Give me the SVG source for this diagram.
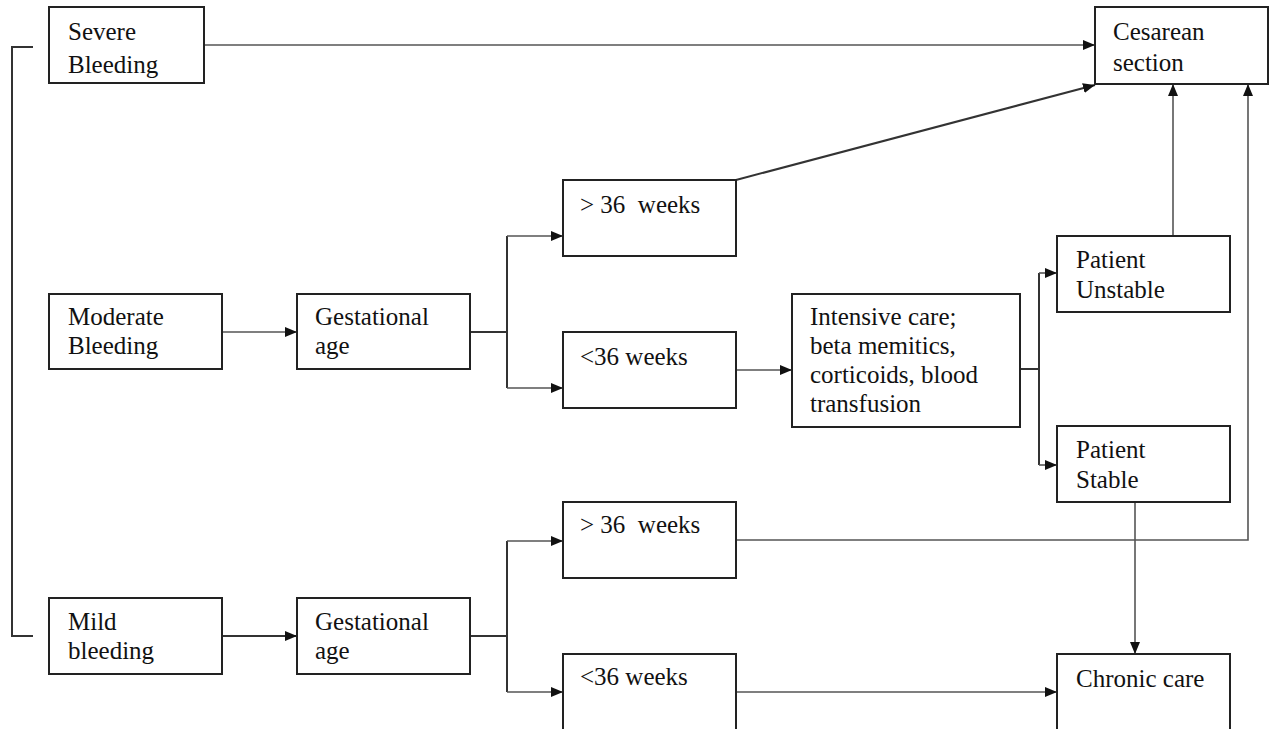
<svg xmlns="http://www.w3.org/2000/svg" width="1274" height="729" viewBox="0 0 1274 729">
<style>
.box{fill:#fff;stroke:#222;stroke-width:2}
.t{font-family:"Liberation Serif","Times New Roman",serif;font-size:25px;fill:#111}
.c{fill:none;stroke:#333;stroke-width:2}
.c2{fill:none;stroke:#555;stroke-width:1.6}
</style>
<defs>
<marker id="ah" viewBox="0 0 12 10" refX="12" refY="5" markerWidth="12" markerHeight="10" markerUnits="userSpaceOnUse" orient="auto">
<path d="M0,0 L12,5 L0,10 z" fill="#111"/>
</marker>
</defs>
<rect width="1274" height="729" fill="#fff"/>
<g id="connectors">
<path class="c" d="M33,47 H12 V636 H33"/>
<path class="c2" d="M204,45 H1095" marker-end="url(#ah)"/>
<path class="c" d="M736,180 L1095,85" marker-end="url(#ah)"/>
<path class="c2" d="M1173,236 V84" marker-end="url(#ah)"/>
<path class="c2" d="M736,540 H1248 V84" marker-end="url(#ah)"/>
<path class="c2" d="M222,332 H297" marker-end="url(#ah)"/>
<path class="c" d="M470,332 H507"/>
<path class="c" d="M507,236 V388"/>
<path class="c2" d="M507,236 H563" marker-end="url(#ah)"/>
<path class="c2" d="M507,388 H563" marker-end="url(#ah)"/>
<path class="c2" d="M736,370 H792" marker-end="url(#ah)"/>
<path class="c" d="M1020,369 H1039"/>
<path class="c" d="M1039,273 V465"/>
<path class="c2" d="M1039,273 H1057" marker-end="url(#ah)"/>
<path class="c2" d="M1039,465 H1057" marker-end="url(#ah)"/>
<path class="c" d="M222,636 H297" marker-end="url(#ah)"/>
<path class="c" d="M470,636 H507"/>
<path class="c" d="M507,541 V692"/>
<path class="c2" d="M507,541 H563" marker-end="url(#ah)"/>
<path class="c2" d="M507,692 H563" marker-end="url(#ah)"/>
<path class="c2" d="M736,692 H1057" marker-end="url(#ah)"/>
<path class="c2" d="M1135,502 V654" marker-end="url(#ah)"/>
</g>
<g id="severe"><rect class="box" x="49" y="7" width="155" height="76"/><text class="t" x="68" y="40">Severe</text><text class="t" x="68" y="73">Bleeding</text></g>
<g id="cesarean"><rect class="box" x="1095" y="7" width="173" height="77"/><text class="t" x="1113" y="40">Cesarean</text><text class="t" x="1113" y="71">section</text></g>
<g id="moderate"><rect class="box" x="49" y="294" width="173" height="75"/><text class="t" x="68" y="325">Moderate</text><text class="t" x="68" y="354">Bleeding</text></g>
<g id="gest1"><rect class="box" x="297" y="294" width="173" height="75"/><text class="t" x="315" y="325">Gestational</text><text class="t" x="315" y="354">age</text></g>
<g id="gt36a"><rect class="box" x="563" y="180" width="173" height="76"/><text class="t" x="580" y="213">&gt; 36&#160; weeks</text></g>
<g id="lt36a"><rect class="box" x="563" y="332" width="173" height="76"/><text class="t" x="580" y="365">&lt;36 weeks</text></g>
<g id="intensive"><rect class="box" x="792" y="294" width="228" height="133"/><text class="t" x="810" y="325">Intensive care;</text><text class="t" x="810" y="354">beta memitics,</text><text class="t" x="810" y="383">corticoids, blood</text><text class="t" x="810" y="412">transfusion</text></g>
<g id="unstable"><rect class="box" x="1057" y="236" width="173" height="76"/><text class="t" x="1076" y="268">Patient</text><text class="t" x="1076" y="298">Unstable</text></g>
<g id="stable"><rect class="box" x="1057" y="426" width="173" height="76"/><text class="t" x="1076" y="458">Patient</text><text class="t" x="1076" y="488">Stable</text></g>
<g id="mild"><rect class="box" x="49" y="598" width="173" height="76"/><text class="t" x="68" y="630">Mild</text><text class="t" x="68" y="659">bleeding</text></g>
<g id="gest2"><rect class="box" x="297" y="598" width="173" height="76"/><text class="t" x="315" y="630">Gestational</text><text class="t" x="315" y="659">age</text></g>
<g id="gt36b"><rect class="box" x="563" y="502" width="173" height="76"/><text class="t" x="580" y="533">&gt; 36&#160; weeks</text></g>
<g id="lt36b"><rect class="box" x="563" y="654" width="173" height="80"/><text class="t" x="580" y="685">&lt;36 weeks</text></g>
<g id="chronic"><rect class="box" x="1057" y="654" width="173" height="80"/><text class="t" x="1076" y="687">Chronic care</text></g>
</svg>
